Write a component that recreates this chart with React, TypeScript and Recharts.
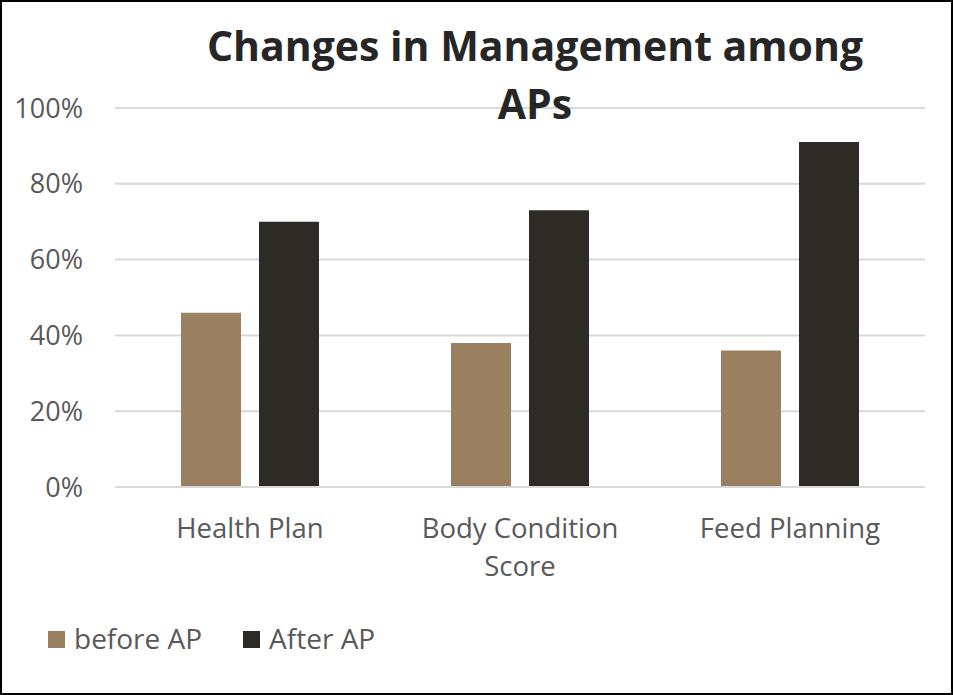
import React from "react";
import { BarChart, Bar, XAxis, YAxis, CartesianGrid, Legend } from "recharts";

const categories = ["Health Plan", "Body Condition Score", "Feed Planning"];
const beforeAP = [46, 38, 36];
const afterAP = [70, 73, 91];
const yTicks = [0, 20, 40, 60, 80, 100];
const seriesNames = ["before AP", "After AP"];
const titleLines = ["Changes in Management among", "APs"];

const data = categories.map((c, i) => ({ name: c, before: beforeAP[i], after: afterAP[i] }));

const FONT = "'Open Sans', sans-serif";
const TEXT_COLOR = "#595959";
const COLORS = ["#9A8061", "#2E2B26"];
const X_FONT_SIZE = 27.5;
const X_LINE_HEIGHT = 38;
const X_MAX_WIDTH = 215;

let measureCtx: CanvasRenderingContext2D | null = null;
const measure = (s: string, font: string) => {
  if (!measureCtx && typeof document !== "undefined") {
    measureCtx = document.createElement("canvas").getContext("2d");
  }
  if (!measureCtx) return s.length * 14;
  measureCtx.font = font;
  return measureCtx.measureText(s).width;
};

const wrapWords = (text: string, maxWidth: number, font: string) => {
  const words = text.split(" ");
  const lines: string[] = [];
  let cur = "";
  words.forEach((w) => {
    const next = cur ? cur + " " + w : w;
    if (cur && measure(next, font) > maxWidth) {
      lines.push(cur);
      cur = w;
    } else {
      cur = next;
    }
  });
  if (cur) lines.push(cur);
  return lines;
};

const XTick = (props: any) => {
  const { x, y, payload } = props;
  const lines = wrapWords(String(payload.value), X_MAX_WIDTH, `${X_FONT_SIZE}px 'Open Sans'`);
  return (
    <text
      x={x}
      y={y}
      textAnchor="middle"
      fill={TEXT_COLOR}
      fontSize={X_FONT_SIZE}
      fontFamily={FONT}
    >
      {lines.map((l, i) => (
        <tspan key={i} x={x} dy={i === 0 ? 20 : X_LINE_HEIGHT}>
          {l}
        </tspan>
      ))}
    </text>
  );
};

const renderLegend = (props: any) => {
  const payload = [...(props.payload || [])].sort(
    (a: any, b: any) => seriesNames.indexOf(a.value) - seriesNames.indexOf(b.value)
  );
  return (
    <div style={{ display: "flex", alignItems: "center", fontFamily: FONT, fontSize: 28, color: TEXT_COLOR, lineHeight: "38px", whiteSpace: "nowrap" }}>
      {payload.map((p: any, i: number) => (
        <div key={i} style={{ display: "flex", alignItems: "center", marginRight: 41 }}>
          <div style={{ width: 17, height: 17, background: p.color, marginRight: 9, marginTop: 2 }} />
          <span>{p.value}</span>
        </div>
      ))}
    </div>
  );
};

export default function App() {
  return (
    <div
      style={{
        position: "absolute",
        left: 0,
        top: 0,
        width: 953,
        height: 695,
        boxSizing: "border-box",
        border: "2px solid #000",
        background: "#fff",
        overflow: "hidden",
      }}
    >
      <div style={{ position: "absolute", left: -2, top: -2, width: 953, height: 695 }}>
        <BarChart
          width={953}
          height={695}
          data={data}
          margin={{ top: 108, right: 28, bottom: 0, left: 0 }}
          barSize={60}
          barGap={18}
        >
          <CartesianGrid vertical={false} stroke="#D9D9D9" strokeWidth={2} />
          <XAxis
            dataKey="name"
            height={208}
            axisLine={{ stroke: "#D9D9D9", strokeWidth: 2 }}
            tickLine={false}
            tickSize={0}
            tick={<XTick />}
            tickMargin={31}
            interval={0}
          />
          <YAxis
            width={115}
            domain={[0, 100]}
            ticks={yTicks}
            tickFormatter={(v: number) => `${v}%`}
            axisLine={false}
            tickLine={false}
            tickSize={0}
            tickMargin={32}
            tick={{ fill: TEXT_COLOR, fontSize: 27, fontFamily: FONT }}
          />
          <Legend
            layout="horizontal"
            verticalAlign="middle"
            align="center"
            content={renderLegend}
            wrapperStyle={{ left: 48, top: 619, bottom: "auto", right: "auto", width: "auto" }}
          />
          <Bar dataKey="before" name={seriesNames[0]} fill={COLORS[0]} isAnimationActive={false} />
          <Bar dataKey="after" name={seriesNames[1]} fill={COLORS[1]} isAnimationActive={false} />
        </BarChart>
        <div
          style={{
            position: "absolute",
            left: 535 - 450,
            top: 16,
            width: 900,
            textAlign: "center",
            fontFamily: FONT,
            fontWeight: "bold",
            fontSize: 41,
            lineHeight: "58px",
            color: "#262626",
            whiteSpace: "nowrap",
          }}
        >
          <div>{titleLines[0]}</div>
          <div>{titleLines[1]}</div>
        </div>
      </div>
    </div>
  );
}
